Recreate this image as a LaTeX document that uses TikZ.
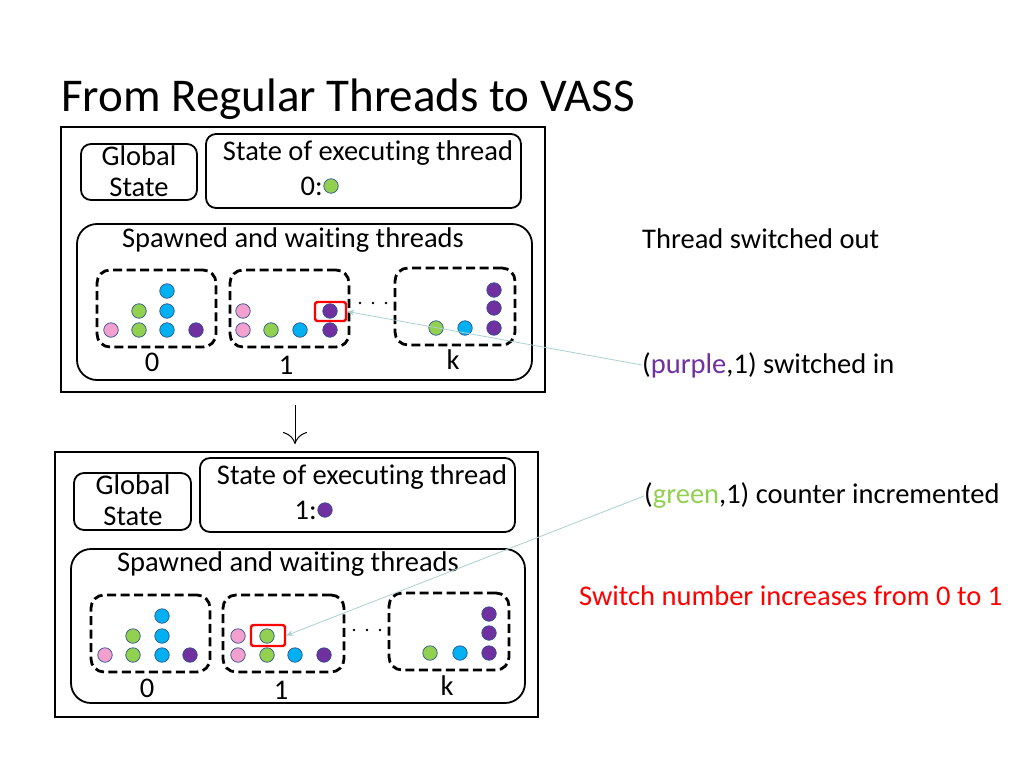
\documentclass[tikz,border=0pt]{standalone}
\usepackage{fontspec}
\setmainfont{Carlito}[Ligatures=NoCommon]
\usetikzlibrary{arrows.meta,fit}
\definecolor{cpink}{RGB}{244,160,206}
\definecolor{cgreen}{RGB}{146,208,80}
\definecolor{cblue}{RGB}{0,176,240}
\definecolor{cpurple}{RGB}{112,48,160}
\definecolor{dotline}{RGB}{47,82,143}
\definecolor{callout}{RGB}{170,208,210}
\begin{document}
\begin{tikzpicture}[x=1pt,y=-1pt,
  panel/.style={draw, line width=2pt, inner sep=0pt},
  rbox/.style={draw, line width=1.8pt, rounded corners=10pt, inner sep=0pt},
  sbox/.style={draw, line width=1.8pt, rounded corners=20pt, inner sep=0pt},
  dbox/.style={draw, line width=2.8pt, dash pattern=on 9pt off 4.5pt, rounded corners=13pt, inner sep=0pt},
  dot/.style={circle, draw=dotline, line width=0.7pt, minimum size=14.5pt, inner sep=0pt},
  hbox/.style={draw=red, line width=2.4pt, rounded corners=2.5pt, inner sep=0pt},
  txt/.style={font=\fontsize{28.5}{31}\selectfont, inner sep=0pt},
  ttl/.style={font=\fontsize{47}{52}\selectfont, inner sep=0pt},
  call/.style={draw=callout, line width=0.8pt, -{Stealth[length=7pt,width=6pt]}},
  ell/.style={circle, fill=black, minimum size=2.8pt, inner sep=0pt}
]
\useasboundingbox (0,0) rectangle (1024,768);
\fill[white] (0,0) rectangle (1024,768);

\node[ttl, anchor=west] (title) at (61,99) {From Regular Threads to VASS};

% ---------------- top panel ----------------
\node[panel, fit={(61,127) (545,392)}] (p1) {};
\node[rbox, fit={(81,144) (197,200)}] (g1) {};
\node[txt, align=center] (g1t) at (139,171) {Global\\State};
\node[rbox, fit={(206,134) (521,208)}] (e1) {};
\node[txt] (e1t) at (368,153) {State of executing thread};
\node[txt, anchor=east] (e1n) at (323,186) {0:};
\node[dot, fill=cgreen] (e1d) at (331,186) {};
\node[sbox, fit={(77,224) (532,380)}] (s1) {};
\node[txt] (s1t) at (293,240) {Spawned and waiting threads};

\node[dbox, fit={(97,270) (216,347)}] (b10) {};
\node[dbox, fit={(230,270) (349,347)}] (b11) {};
\node[dbox, fit={(395,268) (515,345)}] (b1k) {};

\node[dot, fill=cpink]   (t01) at (111,330) {};
\node[dot, fill=cgreen]  (t02) at (139,330) {};
\node[dot, fill=cblue]   (t03) at (167,330) {};
\node[dot, fill=cpurple] (t04) at (196,330) {};
\node[dot, fill=cgreen]  (t05) at (139,311) {};
\node[dot, fill=cblue]   (t06) at (167,311) {};
\node[dot, fill=cblue]   (t07) at (167,291) {};

\node[dot, fill=cpink]   (t11) at (243,330) {};
\node[dot, fill=cgreen]  (t12) at (271,330) {};
\node[dot, fill=cblue]   (t13) at (300,330) {};
\node[dot, fill=cpurple] (t14) at (330,330) {};
\node[dot, fill=cpink]   (t15) at (243,311) {};
\node[dot, fill=cpurple] (t16) at (330,311) {};
\node[hbox, fit={(315,302) (346,321)}] (h1) {};

\node[dot, fill=cgreen]  (tk1) at (436,328) {};
\node[dot, fill=cblue]   (tk2) at (465,328) {};
\node[dot, fill=cpurple] (tk3) at (494,328) {};
\node[dot, fill=cpurple] (tk4) at (494,308) {};
\node[dot, fill=cpurple] (tk5) at (494,290) {};

\node[ell] (e11) at (360,303) {};
\node[ell] (e12) at (373,303) {};
\node[ell] (e13) at (386,303) {};

\node[txt] (l10) at (152,362) {0};
\node[txt] (l11) at (286,365) {1};
\node[txt] (l1k) at (453,360) {k};

% ---------------- arrow down ----------------
\coordinate (dA) at (295,405);
\coordinate (dB) at (295,444);
\draw[line width=1pt, -{To[length=12pt,width=24pt]}] (dA) -- (dB);

% ---------------- bottom panel ----------------
\node[panel, fit={(55,452) (538,717)}] (p2) {};
\node[rbox, fit={(74,473) (191,530)}] (g2) {};
\node[txt, align=center] (g2t) at (133,500) {Global\\State};
\node[rbox, fit={(200,458) (515,532)}] (e2) {};
\node[txt] (e2t) at (362,477) {State of executing thread};
\node[txt, anchor=east] (e2n) at (317,510) {1:};
\node[dot, fill=cpurple] (e2d) at (325,510) {};
\node[sbox, fit={(71,549) (525,703)}] (s2) {};
\node[txt] (s2t) at (288,564) {Spawned and waiting threads};

\node[dbox, fit={(91,595) (210,672)}] (b20) {};
\node[dbox, fit={(223,595) (344,672)}] (b21) {};
\node[dbox, fit={(389,593) (509,670)}] (b2k) {};

\node[dot, fill=cpink]   (u01) at (105,655) {};
\node[dot, fill=cgreen]  (u02) at (133,655) {};
\node[dot, fill=cblue]   (u03) at (162,655) {};
\node[dot, fill=cpurple] (u04) at (190,655) {};
\node[dot, fill=cgreen]  (u05) at (133,636) {};
\node[dot, fill=cblue]   (u06) at (162,636) {};
\node[dot, fill=cblue]   (u07) at (162,616) {};

\node[dot, fill=cpink]   (u11) at (238,655) {};
\node[dot, fill=cgreen]  (u12) at (267,655) {};
\node[dot, fill=cblue]   (u13) at (295,655) {};
\node[dot, fill=cpurple] (u14) at (324,655) {};
\node[dot, fill=cpink]   (u15) at (238,636) {};
\node[dot, fill=cgreen]  (u16) at (267,636) {};
\node[hbox, fit={(251,625) (285,646)}] (h2) {};

\node[dot, fill=cgreen]  (uk1) at (430,653) {};
\node[dot, fill=cblue]   (uk2) at (460,653) {};
\node[dot, fill=cpurple] (uk3) at (489,653) {};
\node[dot, fill=cpurple] (uk4) at (489,633) {};
\node[dot, fill=cpurple] (uk5) at (489,614) {};

\node[ell] (e21) at (354,630) {};
\node[ell] (e22) at (367,630) {};
\node[ell] (e23) at (380,630) {};

\node[txt] (l20) at (147,688) {0};
\node[txt] (l21) at (281,690) {1};
\node[txt] (l2k) at (447,686) {k};

% ---------------- right texts ----------------
\node[txt, anchor=west] (r1) at (642,239) {Thread switched out};
\node[txt, anchor=west] (r2) at (642,365) {(\textcolor{cpurple}{purple},1) switched in};
\node[txt, anchor=west] (r3) at (644,496) {(\textcolor{cgreen}{green},1) counter incremented};
\node[txt, anchor=west, text=red] (r4) at (579,596) {Switch number increases from 0 to 1};

\draw[call] (r2.west) -- (h1.east);
\draw[call] (r3.west) -- (h2.east);
\end{tikzpicture}
\end{document}
